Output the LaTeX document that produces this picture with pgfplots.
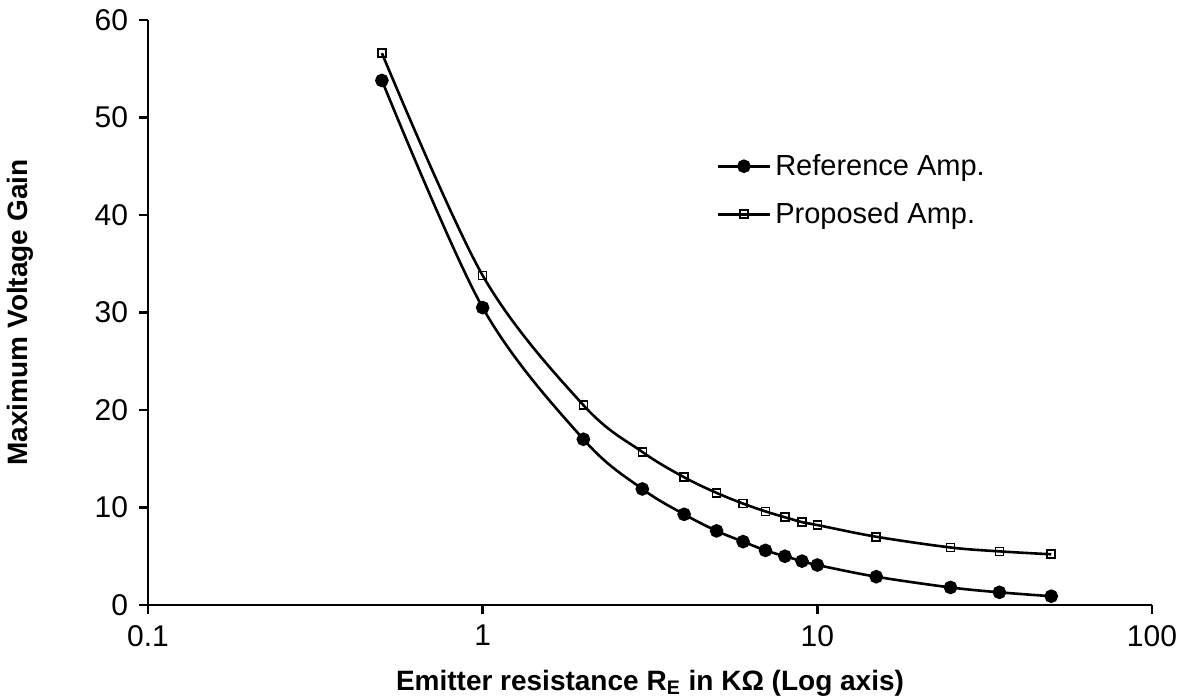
\documentclass[border=0pt]{standalone}
\usepackage{fontspec}
\setmainfont{Liberation Sans}
\usepackage{pgfplots}
\pgfplotsset{compat=1.18}
\usetikzlibrary{calc}
\begin{document}
\begin{tikzpicture}
\begin{axis}[
  scale only axis,
  width=502pt, height=292.5pt,
  xmode=log, log basis x=10,
  xmin=0.1, xmax=100, ymin=0, ymax=60,
  xtick={0.1,1,10,100}, xticklabels={0.1,1,10,100},
  ytick={0,10,20,30,40,50,60},
  minor xtick={},
  axis x line*=bottom, axis y line*=left,
  axis line style={line width=1.2pt},
  tick style={line width=1.2pt, black},
  tick align=outside, major tick length=4.5pt,
  /pgf/number format/assume math mode=true,
  tick label style={font=\fontsize{15}{17}\selectfont},
  xticklabel style={yshift=-2pt},
  yticklabel style={xshift=-2pt},
  xlabel={\textbf{Emitter resistance R\textsubscript{E} in KΩ (Log axis)}},
  ylabel={\textbf{Maximum Voltage Gain}},
  label style={font=\fontsize{14}{16}\selectfont},
  xlabel style={at={(axis description cs:0.5,0)}, anchor=north, yshift=-29pt},
  ylabel style={at={(axis description cs:0,0.5)}, anchor=center, yshift=64pt},
  legend style={at={(0.566,0.709)}, anchor=west, draw=none, fill=none, inner sep=0pt,
    font=\fontsize{14.5}{17}\selectfont, row sep=8pt},
  legend cell align=left,
  legend image code/.code={\draw[mark repeat=2, mark phase=2] plot coordinates {(0pt,0pt) (13pt,0pt) (26pt,0pt)};},
  every axis plot/.append style={black, line width=1.3pt, smooth, tension=0.55},
]
% Reference amplifier
\addplot[mark=*, mark size=2.75pt, mark options={fill=black}] coordinates {
  (0.5,53.8) (1,30.5) (2,17.0) (3,11.9) (4,9.3) (5,7.6) (6,6.5) (7,5.6)
  (8,5.0) (9,4.5) (10,4.1) (15,2.9) (25,1.8) (35,1.3) (50,0.9)
};
\addlegendentry{Reference Amp.}
% Proposed amplifier
\addplot[mark=square, mark size=2pt, mark options={fill=white, line width=0.8pt}] coordinates {
  (0.5,56.6) (1,33.8) (2,20.5) (3,15.7) (4,13.1) (5,11.5) (6,10.4) (7,9.6)
  (8,9.0) (9,8.5) (10,8.2) (15,7.0) (25,5.9) (35,5.5) (50,5.2)
};
\addlegendentry{Proposed Amp.}
\end{axis}
\pgfresetboundingbox
\path ($(current axis.south west)+(-74pt,-47.5pt)$) rectangle ($(current axis.north east)+(18pt,10pt)$);
\end{tikzpicture}
\end{document}
